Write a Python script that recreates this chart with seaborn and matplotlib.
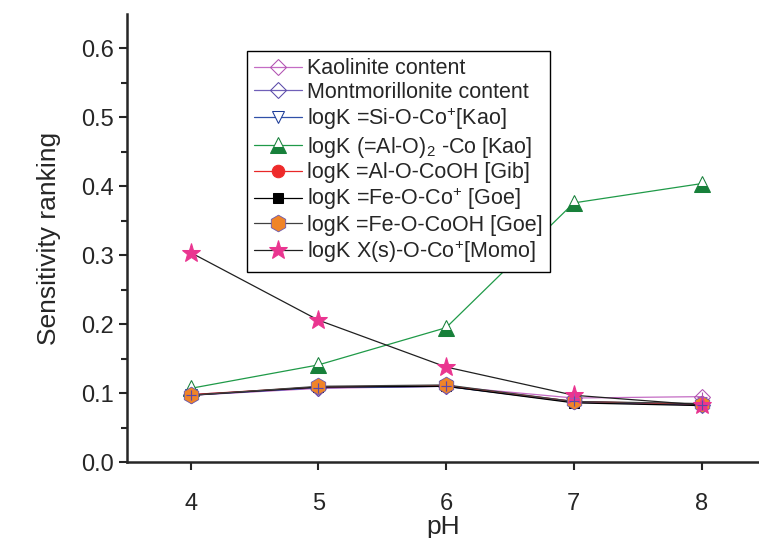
import numpy as np
import pandas as pd
import matplotlib.pyplot as plt
import seaborn as sns

sns.set_style("ticks")
plt.rcParams["font.family"] = ["Liberation Sans", "DejaVu Sans"]
plt.rcParams["mathtext.fontset"] = "custom"
plt.rcParams["mathtext.rm"] = "Liberation Sans"

ph = [4, 5, 6, 7, 8]
kaolinite = [0.097, 0.107, 0.110, 0.093, 0.095]
montmorillonite = [0.097, 0.108, 0.110, 0.088, 0.083]
si_o_co = [0.098, 0.108, 0.110, 0.087, 0.083]
al_o_co = [0.107, 0.141, 0.195, 0.376, 0.404]
al_o_cooh = [0.098, 0.109, 0.111, 0.088, 0.084]
fe_o_co = [0.097, 0.109, 0.110, 0.086, 0.082]
fe_o_cooh = [0.097, 0.110, 0.112, 0.088, 0.085]
x_o_co = [0.304, 0.206, 0.138, 0.097, 0.083]

labels = [
    "Kaolinite content",
    "Montmorillonite content",
    r"logK =Si-O-Co$^{+}$[Kao]",
    r"logK (=Al-O)$_2$ -Co [Kao]",
    "logK =Al-O-CoOH [Gib]",
    r"logK =Fe-O-Co$^{+}$ [Goe]",
    "logK =Fe-O-CoOH [Goe]",
    r"logK X(s)-O-Co$^{+}$[Momo]",
]
series = [kaolinite, montmorillonite, si_o_co, al_o_co, al_o_cooh, fe_o_co, fe_o_cooh, x_o_co]

styles = [
    dict(color="#c46cc4", marker="D", mfc="none", mec="#b050b0", ms=8),
    dict(color="#7060b8", marker="D", mfc="none", mec="#5a4aa8", ms=8),
    dict(color="#3050a8", marker="v", mfc="white", mec="#1d3c98", ms=9),
    dict(color="#1f9a48", marker="^", mfc="#17803a", mec="#17803a", ms=12,
         fillstyle="bottom", mfcalt="white"),
    dict(color="#e82828", marker="o", mfc="#ee2a2a", mec="#ee2a2a", ms=9),
    dict(color="black", marker="s", mfc="black", mec="black", ms=7),
    dict(color="#404040", marker="h", mfc="#f08428", mec="#6a5ab0", ms=12, mew=0.6),
    dict(color="#202020", marker="*", mfc="#ea3590", mec="#ea3590", ms=14),
]

fig = plt.figure(figsize=(7.59, 5.38), dpi=100)
ax = fig.add_axes([0.167, 0.141, 0.833, 0.833])

for vals, lab, st in zip(series, labels, styles):
    df = pd.DataFrame({"pH": ph, "val": vals})
    sns.lineplot(data=df, x="pH", y="val", ax=ax, label=lab, lw=0.9, **st)

# small plus marks inside the diamonds
for vals, c in [(kaolinite, "#b050b0"), (montmorillonite, "#5a4aa8")]:
    ax.plot(ph, vals, ls="none", marker="+", color=c, ms=7, mew=0.8)

ax.set_xlim(3.5, 8.45)
ax.set_ylim(0, 0.65)
ax.set_xticks(ph)
ax.set_yticks(np.arange(0, 0.61, 0.1))
ax.set_yticks(np.arange(0.05, 0.65, 0.1), minor=True)
ax.set_yticklabels([f"{v:.1f}" for v in np.arange(0, 0.61, 0.1)])
ax.tick_params(axis="both", labelsize=17, width=1.5, length=6, direction="out")
ax.tick_params(axis="x", pad=16)
ax.tick_params(axis="y", which="minor", width=1.5, length=4)
ax.set_xlabel("pH", fontsize=19, labelpad=0)
ax.set_ylabel("Sensitivity ranking", fontsize=19, labelpad=14)
for s in ["top", "right"]:
    ax.spines[s].set_visible(False)
for s in ["left", "bottom"]:
    ax.spines[s].set_linewidth(1.8)

leg = ax.legend(loc="upper left", bbox_to_anchor=(0.19, 0.918), borderaxespad=0,
                fontsize=15.5, frameon=True, fancybox=False, edgecolor="black",
                framealpha=1, handlelength=2.2, labelspacing=0.12, borderpad=0.35,
                handletextpad=0.25)
leg.get_frame().set_linewidth(1.0)

fig.savefig("out.png", dpi=100)
